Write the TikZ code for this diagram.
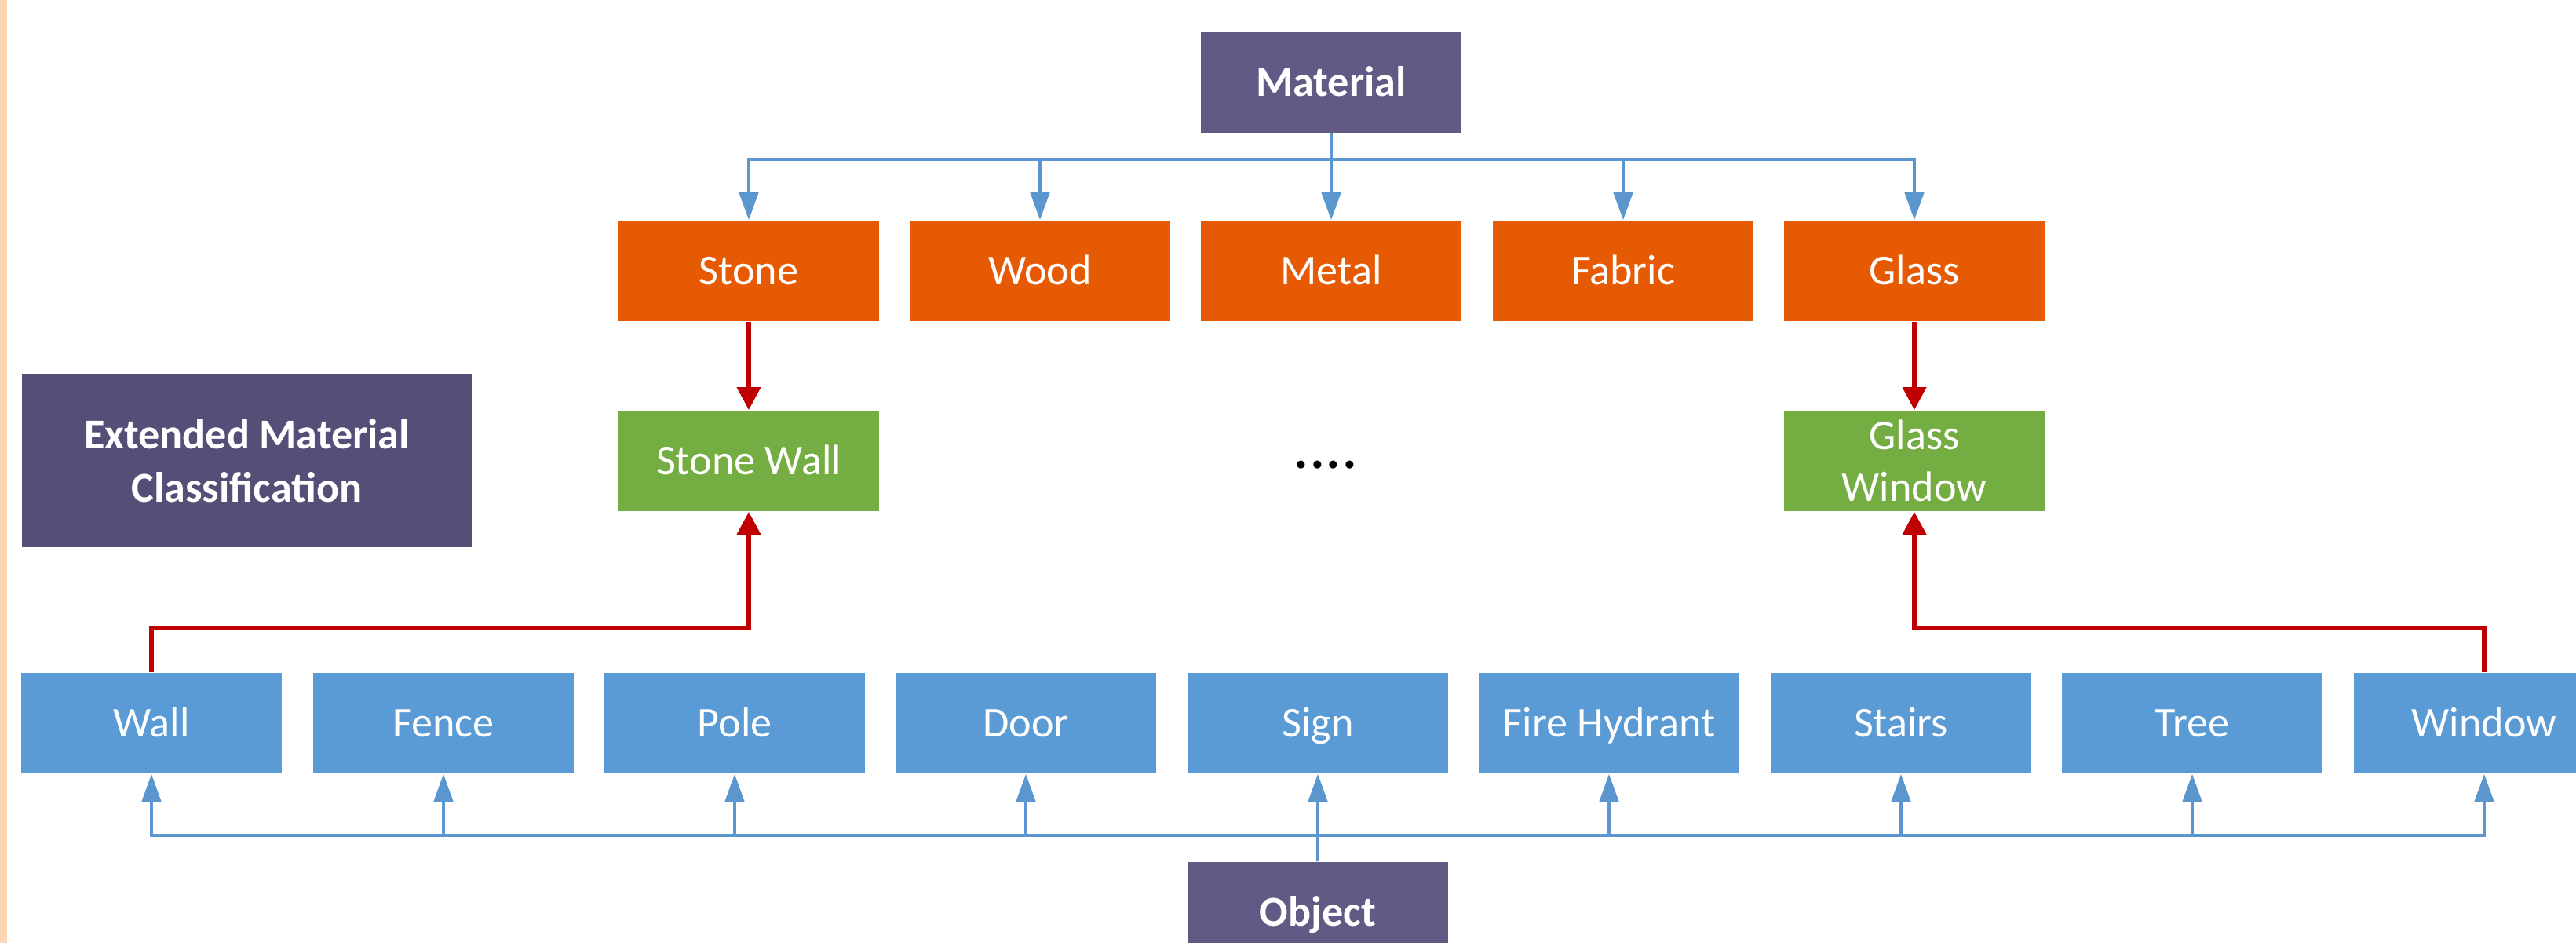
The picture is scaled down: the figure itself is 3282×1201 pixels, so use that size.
\documentclass[tikz,border=0pt]{standalone}
\usepackage{fontspec}
\setmainfont{Carlito}
\usetikzlibrary{arrows.meta}
\definecolor{purpA}{HTML}{625985}
\definecolor{purpB}{HTML}{564E76}
\definecolor{orangeBox}{HTML}{E55A02}
\definecolor{greenBox}{HTML}{74AD42}
\definecolor{blueBox}{HTML}{5B9BD5}
\definecolor{blueLine}{HTML}{5B96CF}
\definecolor{redLine}{HTML}{C00000}
\definecolor{peach}{HTML}{FCD5B4}
\tikzset{
  boxbase/.style={rectangle, inner sep=0pt, minimum width=3.31cm, minimum height=1.28cm,
    text=white, align=center, font=\fontsize{15.4}{18.8}\selectfont},
  box/.style={boxbase, text height=11.1pt, text depth=1.4pt},
  matbox/.style={box, fill=orangeBox},
  objbox/.style={box, fill=blueBox},
  combox/.style={box, fill=greenBox},
  combox2/.style={boxbase, fill=greenBox},
  rootbox/.style={box, fill=purpA, font=\fontsize{15.4}{18.8}\selectfont\bfseries},
  blueconn/.style={draw=blueLine, line width=1.15pt, -{Triangle[length=0.35cm, width=0.24cm]}},
  redconn/.style={draw=redLine, line width=1.85pt, -{Triangle[length=0.29cm, width=0.29cm]}},
}
\begin{document}
\begin{tikzpicture}[x=0.01cm, y=-0.01cm]
\useasboundingbox (0,0) rectangle (3282,1201);
\clip (0,0) rectangle (3282,1201);
\fill[white] (0,0) rectangle (3282,1201);
\fill[peach] (0,0) rectangle (9,1201);

% top root
\node[rootbox] (mat) at (1696,105) {Material};
% materials
\node[matbox] (stone)  at (954,345)  {Stone};
\node[matbox] (wood)   at (1325,345) {Wood};
\node[matbox] (metal)  at (1696,345) {Metal};
\node[matbox] (fabric) at (2068,345) {Fabric};
\node[matbox] (glass)  at (2439,345) {Glass};
% combined
\node[combox] (stonewall) at (954,587) {Stone Wall};
\node[combox2] (glasswin)  at (2439,587) {Glass\\Window};
\node[inner sep=0pt, font=\fontsize{23.5}{24}\selectfont] (dots) at (1689,592) {....};
% label
\node[boxbase, fill=purpB, minimum width=5.73cm, minimum height=2.21cm,
      font=\fontsize{15.4}{19.5}\selectfont\bfseries] (ext) at (314.5,586.5) {Extended Material\\Classification};
% objects
\node[objbox] (wall)    at (193,921)  {Wall};
\node[objbox] (fence)   at (565,921)  {Fence};
\node[objbox] (pole)    at (936,921)  {Pole};
\node[objbox] (door)    at (1307,921) {Door};
\node[objbox] (sign)    at (1679,921) {Sign};
\node[objbox] (hydrant) at (2050,921) {Fire Hydrant};
\node[objbox] (stairs)  at (2422,921) {Stairs};
\node[objbox] (tree)    at (2793,921) {Tree};
\node[objbox] (window)  at (3165,921) {Window};
% bottom root
\node[rootbox] (obj) at (1679,1162) {Object};

\coordinate (topbus) at (0,203);
\coordinate (botbus) at (0,1064);
\coordinate (redbus) at (0,800);

% Material -> materials
\foreach \m in {stone,wood,metal,fabric,glass}
  \draw[blueconn] (mat.south) -- (mat.south |- topbus) -| (\m.north);
% Object -> objects
\foreach \o in {wall,fence,pole,door,sign,hydrant,stairs,tree,window}
  \draw[blueconn] (obj.north) -- (obj.north |- botbus) -| (\o.south);

% red connectors
\draw[redconn] (stone.south) -- (stonewall.north);
\draw[redconn] (glass.south) -- (glasswin.north);
\draw[redconn] (wall.north) -- (wall.north |- redbus) -| (stonewall.south);
\draw[redconn] (window.north) -- (window.north |- redbus) -| (glasswin.south);
\end{tikzpicture}
\end{document}
